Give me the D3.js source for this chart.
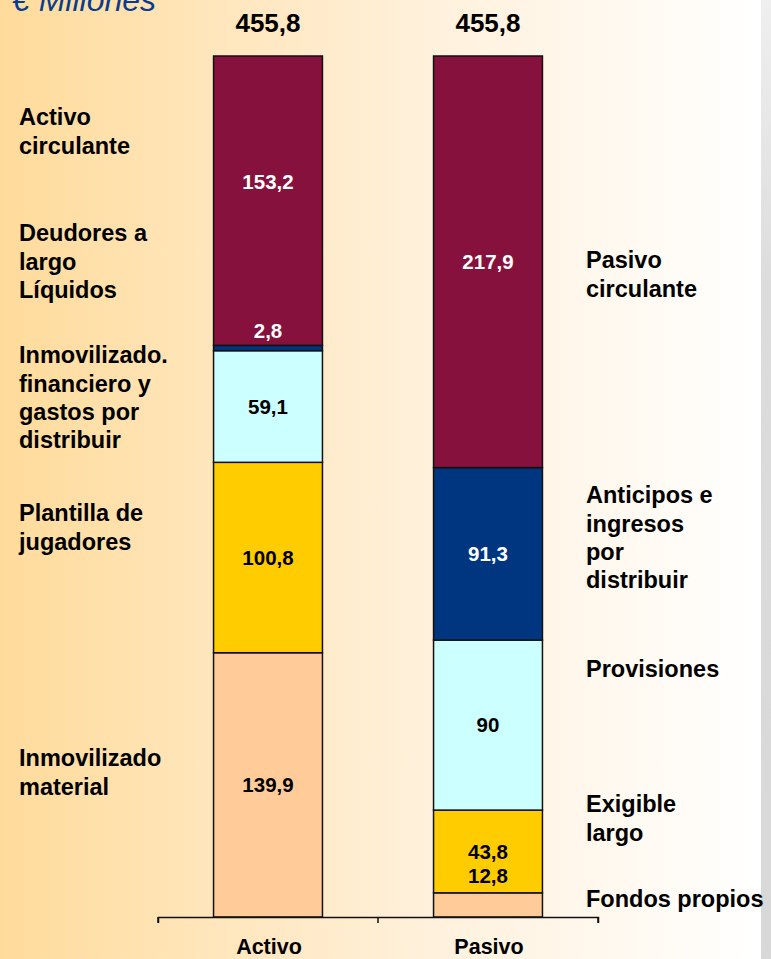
<!DOCTYPE html>
<html>
<head>
<meta charset="utf-8">
<script src="https://cdn.jsdelivr.net/npm/d3@7"></script>
<style>
  html, body { margin: 0; padding: 0; overflow: hidden; }
  svg { display: block; }
  text { font-family: "Liberation Sans", Arial, sans-serif; }
</style>
</head>
<body>
<script>
// ---------- DATA ----------
const categories = ["Activo", "Pasivo"];
const activoItems = ["Inmovilizado material", "Plantilla de jugadores", "Inmovilizado financiero", "Deudores a largo", "Activo circulante"];
const activoValues = [139.9, 100.8, 59.1, 2.8, 153.2];
const pasivoItems = ["Fondos propios", "Exigible largo", "Provisiones", "Anticipos", "Pasivo circulante"];
const pasivoValues = [12.8, 43.8, 90, 91.3, 217.9];
const totals = [455.8, 455.8];
const activoLabelText = [["Inmovilizado", "material"], ["Plantilla de", "jugadores"], ["Inmovilizado.", "financiero y", "gastos por", "distribuir"], ["Deudores a", "largo", "Líquidos"], ["Activo", "circulante"]];
const pasivoLabelText = [["Fondos propios"], ["Exigible", "largo"], ["Provisiones"], ["Anticipos e", "ingresos", "por", "distribuir"], ["Pasivo", "circulante"]];
const unitTitle = "€ Millones";

// ---------- LAYOUT / STYLE ----------
const W = 771, H = 959;
const segColors = ["#FFCC99", "#FFCC00", "#CCFFFF", "#00357F", "#86113D"];
const segTextColors = ["#000", "#000", "#000", "#fff", "#fff"];
// first line y (px) of each side label block
const activoLabelY = [758, 513, 355, 233, 117];
const pasivoLabelY = [899, 804, 669, 495, 260];
// value label vertical offsets from segment centre (px)
const activoValDy = [0, 0, 0, -17, -19];
const pasivoValDy = [0, 0, 0, 0, 0];

const svg = d3.select("body").append("svg").attr("width", W).attr("height", H);
const defs = svg.append("defs");
const bg = defs.append("linearGradient").attr("id", "bg").attr("x1", 0).attr("x2", 1).attr("y1", 0).attr("y2", 0);
bg.append("stop").attr("offset", "0%").attr("stop-color", "#FFDB9B");
bg.append("stop").attr("offset", "55%").attr("stop-color", "#FFF0DA");
bg.append("stop").attr("offset", "100%").attr("stop-color", "#FFFFFF");
const gr = defs.append("linearGradient").attr("id", "gr").attr("x1", 0).attr("x2", 0).attr("y1", 0).attr("y2", 1);
gr.append("stop").attr("offset", "0%").attr("stop-color", "#EFEFEF");
gr.append("stop").attr("offset", "30%").attr("stop-color", "#DCDCDC");
gr.append("stop").attr("offset", "100%").attr("stop-color", "#D8D8D8");

svg.append("rect").attr("x", 0).attr("y", 0).attr("width", 761).attr("height", H).attr("fill", "url(#bg)");
svg.append("rect").attr("x", 761).attr("y", 0).attr("width", 10).attr("height", H).attr("fill", "url(#gr)");

const x = d3.scaleBand().domain(categories).range([158, 598]).padding(0);
const y = d3.scaleLinear().domain([0, 455.8]).range([917, 56]);
const barW = x.bandwidth() * 0.495;

function stackOf(values) {
  let acc = 0;
  return values.map(v => { const s = { y0: acc, y1: acc + v, v }; acc += v; return s; });
}
const stacks = [stackOf(activoValues), stackOf(pasivoValues)];
const valDy = [activoValDy, pasivoValDy];

const fmt = v => String(v).replace(".", ",");

categories.forEach((cat, ci) => {
  const cx = x(cat) + x.bandwidth() / 2;
  const g = svg.append("g").attr("class", "bar");
  g.selectAll("rect").data(stacks[ci]).join("rect")
    .attr("x", cx - barW / 2)
    .attr("width", barW)
    .attr("y", d => y(d.y1))
    .attr("height", d => y(d.y0) - y(d.y1))
    .attr("fill", (d, i) => segColors[i])
    .attr("stroke", "#111")
    .attr("stroke-width", 1.5);
  g.selectAll("text").data(stacks[ci]).join("text")
    .attr("x", cx)
    .attr("y", (d, i) => (ci === 1 && i === 0) ? y(d.y1) - 17 : (y(d.y0) + y(d.y1)) / 2 + valDy[ci][i])
    .attr("dy", "0.36em")
    .attr("text-anchor", "middle")
    .attr("font-size", 20.5)
    .attr("font-weight", "bold")
    .attr("fill", (d, i) => segTextColors[i])
    .text(d => fmt(d.v));
  // totals
  svg.append("text").attr("x", cx).attr("y", 32).attr("text-anchor", "middle")
    .attr("font-size", 26).attr("font-weight", "bold").attr("fill", "#000")
    .text(fmt(totals[ci]));
});

// axis
const axis = d3.axisBottom(x).tickSize(6).tickSizeOuter(6).tickFormat("");
const ax = svg.append("g").attr("transform", "translate(0,917)").call(axis);
ax.select(".domain").attr("stroke", "#111").attr("stroke-width", 1.5);
ax.selectAll(".tick").remove();
const edges = [x.range()[0], x("Pasivo"), x.range()[1]];
ax.selectAll("line.t").data(edges).join("line").attr("class", "t")
  .attr("x1", d => d).attr("x2", d => d).attr("y1", 0).attr("y2", 6)
  .attr("stroke", "#111").attr("stroke-width", 1.5);

categories.forEach(cat => {
  svg.append("text").attr("x", x(cat) + x.bandwidth() / 2 + 1).attr("y", 954)
    .attr("text-anchor", "middle").attr("font-size", 21.5).attr("font-weight", "bold")
    .text(cat);
});

// side labels
function sideLabels(texts, ys, xPos) {
  texts.forEach((lines, i) => {
    const t = svg.append("text").attr("x", xPos).attr("y", ys[i]).attr("font-size", 23.5)
      .attr("font-weight", "bold").attr("fill", "#000");
    lines.forEach((ln, j) => {
      t.append("tspan").attr("x", xPos).attr("y", ys[i] + j * 28.3).attr("dy", "0.36em").text(ln);
    });
  });
}
sideLabels(activoLabelText, activoLabelY, 19);
sideLabels(pasivoLabelText, pasivoLabelY, 586);

// unit title
svg.append("text").attr("x", 12).attr("y", 11).attr("font-size", 32).attr("font-style", "italic")
  .attr("fill", "#0A3C8C").text(unitTitle);
</script>
</body>
</html>
